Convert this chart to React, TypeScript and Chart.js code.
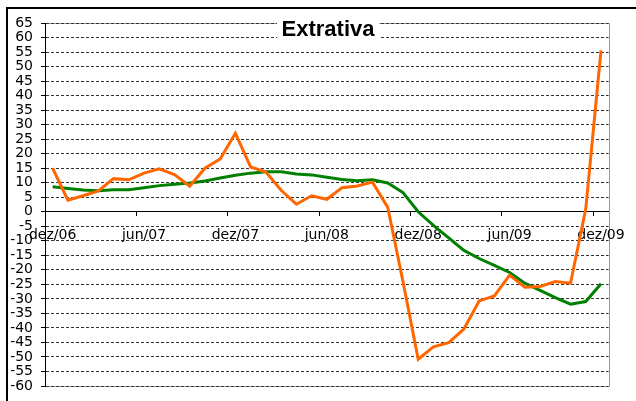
import React, { useEffect, useRef } from "react";
import { Chart, registerables } from "chart.js";

Chart.register(...registerables);

const categories = [
  "dez/06", "jan/07", "fev/07", "mar/07", "abr/07", "mai/07", "jun/07", "jul/07", "ago/07", "set/07", "out/07", "nov/07",
  "dez/07", "jan/08", "fev/08", "mar/08", "abr/08", "mai/08", "jun/08", "jul/08", "ago/08", "set/08", "out/08", "nov/08",
  "dez/08", "jan/09", "fev/09", "mar/09", "abr/09", "mai/09", "jun/09", "jul/09", "ago/09", "set/09", "out/09", "nov/09",
  "dez/09",
];

const monthly = [
  15, 4, 5.5, 7.2, 11.4, 11.0, 13.3, 14.8, 12.8, 8.8, 15, 18.2,
  27, 15.4, 13.7, 7.4, 2.6, 5.5, 4.3, 8.3, 8.9, 10.2, 1.5, -24,
  -50.8, -46.5, -45.1, -40.4, -30.7, -29, -21.8, -26, -25.7, -24, -24.6, 1,
  55.6,
];

const accumulated = [
  8.6, 8.0, 7.5, 7.2, 7.6, 7.6, 8.3, 9.0, 9.5, 9.9, 10.6, 11.6,
  12.6, 13.3, 13.8, 13.8, 13.0, 12.7, 11.9, 11.1, 10.7, 11.0, 9.9, 6.6,
  0, -4.7, -9.0, -13.3, -16.1, -18.5, -20.9, -24.6, -27.1, -29.6, -31.8, -30.9,
  -24.8,
];

const title = "Extrativa";
const yMin = -60;
const yMax = 65;
const yStep = 5;
const labelEvery = 6;

export default function App() {
  const ref = useRef<HTMLCanvasElement>(null);

  useEffect(() => {
    if (!ref.current) return;
    const framePlugin = {
      id: "frame",
      beforeDraw(chart: any) {
        const { ctx, chartArea } = chart;
        ctx.save();
        ctx.fillStyle = "#000";
        ctx.fillRect(6, 7, 630, 2);
        ctx.fillRect(6, 7, 2, 394);
        ctx.strokeStyle = "#999";
        ctx.lineWidth = 1;
        ctx.beginPath();
        ctx.moveTo(chartArea.left, Math.round(chartArea.top) + 0.5);
        ctx.lineTo(Math.round(chartArea.right) + 0.5, Math.round(chartArea.top) + 0.5);
        ctx.lineTo(Math.round(chartArea.right) + 0.5, Math.round(chartArea.bottom) + 0.5);
        ctx.lineTo(chartArea.left, Math.round(chartArea.bottom) + 0.5);
        ctx.stroke();
        ctx.restore();
      },
      afterDraw(chart: any) {
        const { ctx } = chart;
        ctx.save();
        ctx.fillStyle = "#fff";
        ctx.fillRect(277, 14, 102, 30);
        ctx.fillStyle = "#000";
        ctx.font = "bold 22px 'Liberation Sans', Arial, sans-serif";
        ctx.textAlign = "center";
        ctx.textBaseline = "alphabetic";
        ctx.fillText(title, 328, 36);
        ctx.restore();
      },
    };

    const chart = new Chart(ref.current, {
      type: "line",
      data: {
        labels: categories,
        datasets: [
          {
            label: "Mensal",
            data: monthly,
            borderColor: "#FF6600",
            borderWidth: 3,
            pointRadius: 0,
            tension: 0,
            fill: false,
          },
          {
            label: "Acumulado",
            data: accumulated,
            borderColor: "#008000",
            borderWidth: 3,
            pointRadius: 0,
            tension: 0,
            fill: false,
          },
        ],
      },
      options: {
        animation: false,
        responsive: false,
        layout: { padding: { left: 0, top: 23, right: 23, bottom: 11 } },
        plugins: {
          legend: { display: false },
          title: { display: false },
          tooltip: { enabled: false },
        },
        scales: {
          x: {
            type: "category",
            position: { y: 0 },
            offset: true,
            grid: {
              offset: true,
              drawOnChartArea: false,
              drawTicks: true,
              tickLength: 4,
              tickColor: (ctx: any) => (ctx.index % labelEvery === 0 && ctx.index < categories.length ? "#000" : "rgba(0,0,0,0)"),
            },
            border: { color: "#000", width: 1 },
            ticks: {
              autoSkip: false,
              maxRotation: 0,
              minRotation: 0,
              padding: 11,
              color: "#000",
              font: { family: "'DejaVu Sans'", size: 14 },
              callback: (_v: any, i: number) => (i % labelEvery === 0 ? categories[i] : ""),
            },
          },
          y: {
            min: yMin,
            max: yMax,
            position: "left",
            afterFit: (scale: any) => {
              scale.width = 45;
            },
            grid: {
              color: "#333",
              lineWidth: 1,
              drawTicks: true,
              tickLength: 4,
              tickColor: "#000",
              tickBorderDash: [],
            },
            border: { color: "#000", width: 1, dash: [3, 2] },
            ticks: {
              stepSize: yStep,
              autoSkip: false,
              maxTicksLimit: 40,
              padding: 8,
              color: "#000",
              font: { family: "'DejaVu Sans'", size: 14, lineHeight: 1 },
            },
          },
        },
      },
      plugins: [framePlugin],
    });
    return () => chart.destroy();
  }, []);

  return (
    <div style={{ position: "fixed", left: 0, top: 0, width: 636, height: 401, background: "#fff" }}>
      <canvas ref={ref} width={636} height={401} style={{ display: "block" }} />
    </div>
  );
}
